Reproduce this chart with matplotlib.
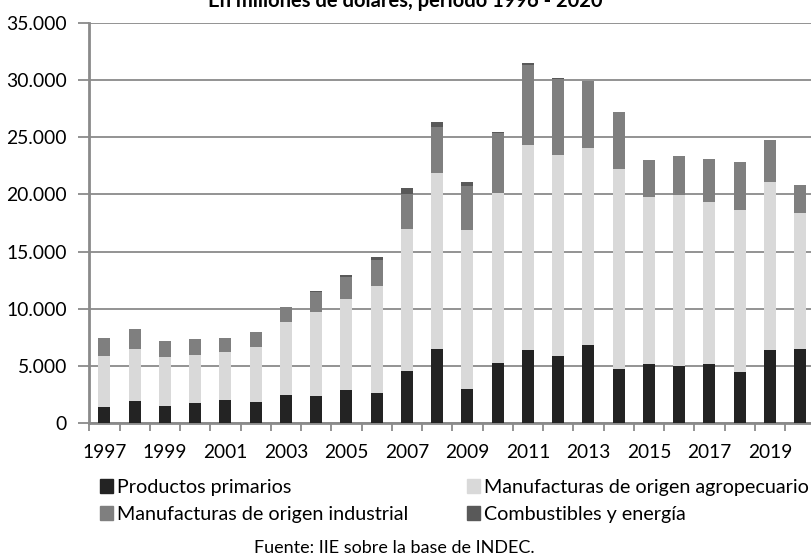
import matplotlib
matplotlib.use("Agg")
import matplotlib.pyplot as plt
from matplotlib.patches import Patch
from matplotlib.ticker import FuncFormatter
import numpy as np

years = list(range(1997, 2021))
primarios = [1400, 1930, 1490, 1750, 2015, 1790, 2455, 2315, 2865, 2575, 4555, 6460,
             2955, 5230, 6370, 5845, 6780, 4730, 5170, 4970, 5145, 4445, 6370, 6430]
moa = [4445, 4500, 4270, 4155, 4205, 4870, 6345, 7410, 7950, 9405, 12420, 15420,
       13905, 14870, 17950, 17640, 17290, 17475, 14635, 14960, 14195, 14170, 14720, 11945]
moi = [1577, 1780, 1375, 1430, 1200, 1290, 1340, 1730, 1955, 2280, 3090, 4005,
       3910, 5270, 7050, 6600, 5870, 5020, 3215, 3445, 3740, 4230, 3680, 2455]
combustibles = [20, 20, 20, 20, 20, 20, 20, 90, 175, 260, 470, 440,
                300, 100, 150, 120, 40, 20, 20, 20, 20, 20, 20, 20]

series_names = ["Productos primarios", "Manufacturas de origen agropecuario",
                "Manufacturas de origen industrial", "Combustibles y energía"]
colors = ["#232323", "#d9d9d9", "#7f7f7f", "#595959"]

title = "En millones de dólares, período 1996 - 2020"
source = "Fuente: IIE sobre la base de INDEC."
yticks = [0, 5000, 10000, 15000, 20000, 25000, 30000, 35000]

plt.rcParams['font.family'] = ['Lato', 'DejaVu Sans']

W, H = 812, 557
fig = plt.figure(figsize=(W / 100, H / 100), dpi=100)
x0, x1 = 89.3, 815.3
y0, y1 = 422.7, 23.3
ax = fig.add_axes([x0 / W, 1 - y0 / H, (x1 - x0) / W, (y0 - y1) / H])

x = np.arange(len(years))
data = [primarios, moa, moi, combustibles]
bottom = np.zeros(len(years))
for vals, c in zip(data, colors):
    ax.bar(x, vals, width=0.4, bottom=bottom, color=c, edgecolor='none', zorder=3)
    bottom += np.array(vals)

ax.set_xlim(-0.5, len(years) - 0.5)
ax.set_ylim(0, 35000)
ax.set_yticks(yticks)
ax.yaxis.set_major_formatter(FuncFormatter(lambda v, p: f"{int(v):,}".replace(",", ".")))
ax.yaxis.grid(True, color="#8a8a8a", lw=1.3, zorder=1)
ax.set_axisbelow(True)

ax.set_xticks(np.arange(-0.5, len(years), 1))
ax.set_xticklabels([])
ax.set_xticks(x[::2], minor=True)
ax.set_xticklabels([str(y) for y in years[::2]], minor=True)
ax.tick_params(axis='x', which='major', length=6, width=1.3, color="#8a8a8a", direction='out')
ax.tick_params(axis='x', which='minor', length=0, pad=15.3, labelsize=13.8)
ax.tick_params(axis='y', length=7.6, width=1.3, color="#8a8a8a", pad=8.5, labelsize=13.9)

for s in ['top', 'right']:
    ax.spines[s].set_visible(False)
ax.spines['left'].set_color("#8a8a8a")
ax.spines['left'].set_linewidth(2)
ax.spines['bottom'].set_color("#8a8a8a")
ax.spines['bottom'].set_linewidth(2)

fig.text(405 / W, 1 - 7 / H, title, ha='center', va='baseline', fontsize=14.5, fontweight='bold')
fig.text(394 / W, 1 - 548 / H, source, ha='center', va='center', fontsize=13)

LFS = 14.2
handles = [Patch(color=c) for c in colors]
common = dict(frameon=False, fontsize=LFS, handlelength=0.66, handleheight=0.66,
              handletextpad=0.22, labelspacing=0.5, borderpad=0, borderaxespad=0,
              loc='upper left')
fig.legend([handles[0], handles[2]], [series_names[0], series_names[2]],
           bbox_to_anchor=(100 / W, 1 - 479 / H), **common)
fig.legend([handles[1], handles[3]], [series_names[1], series_names[3]],
           bbox_to_anchor=(467 / W, 1 - 479 / H), **common)

fig.savefig("out.png", dpi=100)
